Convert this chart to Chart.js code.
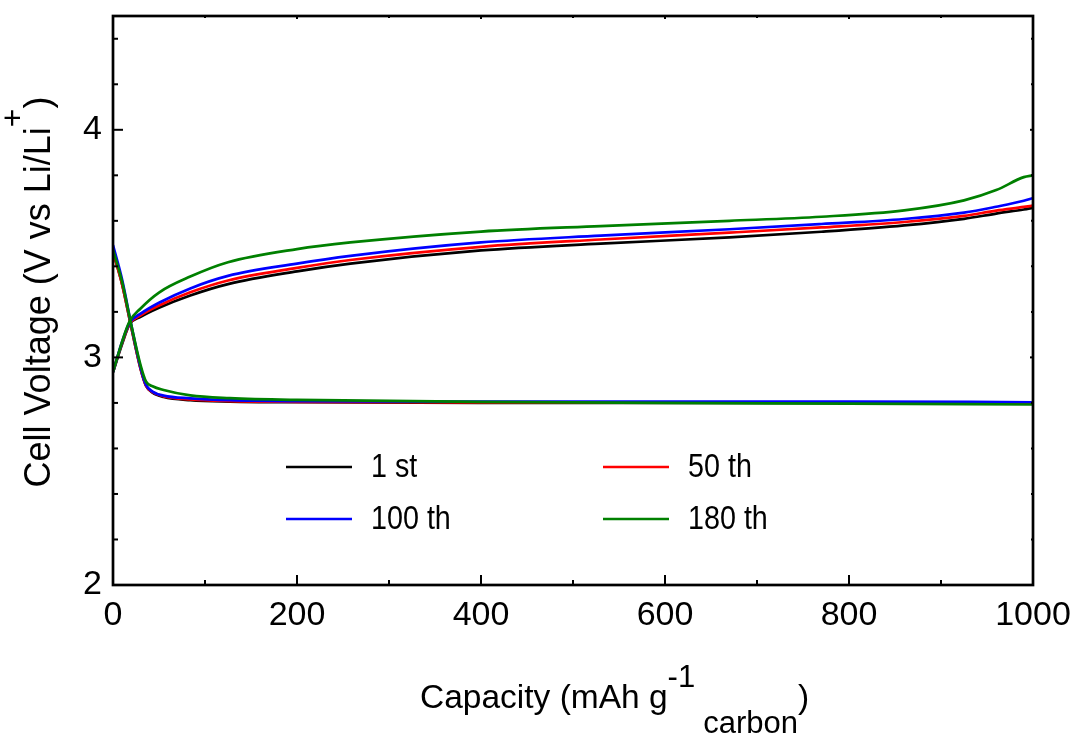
<!DOCTYPE html>
<html>
<head>
<meta charset="utf-8">
<script src="https://cdn.jsdelivr.net/npm/chart.js@4/dist/chart.umd.min.js"></script>
<style>
  html, body { margin: 0; padding: 0; background: #fff; }
  #wrap { width: 1078px; height: 736px; }
</style>
</head>
<body>
<div id="wrap"><canvas id="c" width="1078" height="736"></canvas></div>
<script>
// ---- data ----
const cycleLabels = ['1 st', '50 th', '100 th', '180 th'];
const cycleColors = ['#000000', '#ff0000', '#0000ff', '#008000'];

const chargeCap = [0, 10, 18, 30, 50, 84, 125, 200, 258, 400, 530, 670, 770, 860, 925, 960, 990, 1000];
const charge1st  = [2.935, 3.06, 3.145, 3.178, 3.218, 3.272, 3.322, 3.378, 3.412, 3.47, 3.50, 3.527, 3.552, 3.58, 3.609, 3.632, 3.65, 3.657];
const charge50th = [2.935, 3.065, 3.148, 3.185, 3.228, 3.286, 3.338, 3.393, 3.428, 3.486, 3.518, 3.548, 3.571, 3.595, 3.622, 3.645, 3.661, 3.667];
const charge100th= [2.935, 3.07, 3.152, 3.192, 3.24, 3.303, 3.358, 3.412, 3.446, 3.505, 3.535, 3.563, 3.586, 3.608, 3.636, 3.662, 3.688, 3.70];
const charge180th= [2.935, 3.07, 3.158, 3.215, 3.285, 3.355, 3.418, 3.476, 3.505, 3.553, 3.577, 3.60, 3.618, 3.646, 3.69, 3.735, 3.792, 3.80];

const dischargeCap = [0, 10, 20, 30, 36, 43, 55, 84, 127, 200, 400, 600, 800, 1000];
const discharge1st  = [3.464, 3.32, 3.13, 2.95, 2.875, 2.845, 2.826, 2.812, 2.806, 2.803, 2.80, 2.80, 2.80, 2.80];
const discharge50th = [3.464, 3.32, 3.13, 2.95, 2.875, 2.847, 2.829, 2.815, 2.808, 2.805, 2.802, 2.802, 2.802, 2.80];
const discharge100th= [3.493, 3.34, 3.14, 2.955, 2.878, 2.85, 2.832, 2.82, 2.812, 2.808, 2.806, 2.806, 2.806, 2.803];
const discharge180th= [3.474, 3.33, 3.14, 2.965, 2.893, 2.873, 2.857, 2.833, 2.821, 2.813, 2.805, 2.80, 2.797, 2.793];

const xMajorTicks = [0, 200, 400, 600, 800, 1000];
const xMinorTicks = [100, 300, 500, 700, 900];
const yMajorTicks = [2, 3, 4];
const yMinorTicks = [2.2, 2.4, 2.6, 2.8, 3.2, 3.4, 3.6, 3.8, 4.2, 4.4];

// ---- build datasets ----
const FONT = '"Liberation Sans", Arial, sans-serif';
const chargeSets = [charge1st, charge50th, charge100th, charge180th];
const dischargeSets = [discharge1st, discharge50th, discharge100th, discharge180th];
const toPts = (xs, ys) => xs.map((x, i) => ({ x: x, y: ys[i] }));
const datasets = [];
cycleLabels.forEach((lab, i) => {
  datasets.push({ label: lab, data: toPts(chargeCap, chargeSets[i]), borderColor: cycleColors[i],
    order: 3 - i, isLegend: true });
});
cycleLabels.forEach((lab, i) => {
  datasets.push({ label: lab + ' discharge', data: toPts(dischargeCap, dischargeSets[i]), borderColor: cycleColors[i],
    order: 3 - i, isLegend: false });
});
datasets.forEach(d => {
  d.showLine = true; d.pointRadius = 0; d.borderWidth = 2.7; d.fill = false;
  d.cubicInterpolationMode = 'monotone'; d.backgroundColor = d.borderColor;
});

// ---- custom drawing: frame, inward ticks, axis titles, legend ----
const decorPlugin = {
  id: 'decor',
  afterDatasetsDraw(chart) {
    const ctx = chart.ctx, a = chart.chartArea;
    const xs = chart.scales.x, ys = chart.scales.y;
    ctx.save();
    ctx.strokeStyle = '#000';
    ctx.lineWidth = 2.7;
    ctx.strokeRect(a.left, a.top, a.right - a.left, a.bottom - a.top);
    ctx.lineWidth = 2;
    const tick = (x1, y1, x2, y2) => { ctx.beginPath(); ctx.moveTo(x1, y1); ctx.lineTo(x2, y2); ctx.stroke(); };
    xMajorTicks.forEach(v => { const p = xs.getPixelForValue(v); tick(p, a.bottom, p, a.bottom - 10); tick(p, a.top, p, a.top + 3); });
    xMinorTicks.forEach(v => { const p = xs.getPixelForValue(v); tick(p, a.bottom, p, a.bottom - 5); tick(p, a.top, p, a.top + 2); });
    yMajorTicks.forEach(v => { const p = ys.getPixelForValue(v); tick(a.left, p, a.left + 10, p); tick(a.right, p, a.right - 3, p); });
    yMinorTicks.forEach(v => { const p = ys.getPixelForValue(v); tick(a.left, p, a.left + 5, p); tick(a.right, p, a.right - 2, p); });

    ctx.fillStyle = '#000';
    ctx.textBaseline = 'alphabetic';
    ctx.textAlign = 'left';

    // x title: Capacity (mAh g^-1 carbon)
    const xBig = '33.5px ' + FONT, xSmall = '31px ' + FONT;
    const parts = [
      { t: 'Capacity (mAh g', f: xBig, dy: 0, gap: 0 },
      { t: '-1', f: xSmall, dy: -21, gap: 0 },
      { t: 'carbon', f: xSmall, dy: 25, gap: 8 },
      { t: ')', f: xBig, dy: 0, gap: 0 }
    ];
    let x0 = 420;
    parts.forEach(p => { ctx.font = p.f; x0 += p.gap; ctx.fillText(p.t, x0, 708 + p.dy); x0 += ctx.measureText(p.t).width; });

    // y title: Cell Voltage (V vs Li/Li+)
    const yBig = '36px ' + FONT, ySmall = '32px ' + FONT;
    const yparts = [
      { t: 'Cell Voltage (V vs Li/Li', f: yBig, dy: 0 },
      { t: '+', f: ySmall, dy: -27 },
      { t: ')', f: yBig, dy: 0 }
    ];
    let ytot = 0;
    yparts.forEach(p => { ctx.font = p.f; p.w = ctx.measureText(p.t).width; ytot += p.w; });
    ctx.save();
    ctx.translate(50, 292);
    ctx.rotate(-Math.PI / 2);
    let y0 = -ytot / 2;
    yparts.forEach(p => { ctx.font = p.f; ctx.fillText(p.t, y0, p.dy); y0 += p.w; });
    ctx.restore();

    // legend (two columns, slightly condensed text as in the reference)
    const legendPos = [[286, 467], [603, 467], [286, 519], [603, 519]];
    ctx.font = '33px ' + FONT;
    ctx.textBaseline = 'middle';
    chart.data.datasets.filter(d => d.isLegend).forEach((d, i) => {
      const [lx, ly] = legendPos[i];
      ctx.strokeStyle = d.borderColor; ctx.lineWidth = 2.7;
      tick(lx, ly, lx + 66, ly);
      ctx.save();
      ctx.translate(lx + 85, ly + 1);
      ctx.scale(0.87, 1);
      ctx.fillStyle = '#000';
      ctx.fillText(d.label, 0, 0);
      ctx.restore();
    });
    ctx.restore();
  }
};

const zeroPad = s => { s.paddingTop = 0; s.paddingBottom = 0; s.paddingLeft = 0; s.paddingRight = 0; };

new Chart(document.getElementById('c'), {
  type: 'scatter',
  data: { datasets: datasets },
  options: {
    responsive: false,
    animation: false,
    events: [],
    layout: { padding: { top: 16, right: 45, left: 0, bottom: 0 } },
    plugins: { legend: { display: false }, tooltip: { enabled: false }, title: { display: false } },
    scales: {
      x: {
        type: 'linear', min: 0, max: 1000,
        grid: { display: false, drawTicks: false },
        border: { display: false },
        ticks: { color: '#000', font: { family: FONT, size: 34 }, padding: 10, maxRotation: 0,
                 callback: v => String(v) },
        afterBuildTicks: s => { s.ticks = xMajorTicks.map(v => ({ value: v })); },
        afterFit: s => { s.height = 151; zeroPad(s); }
      },
      y: {
        type: 'linear', min: 2, max: 4.5,
        grid: { display: false, drawTicks: false },
        border: { display: false },
        ticks: { color: '#000', font: { family: FONT, size: 34 }, padding: 11, callback: v => String(v) },
        afterBuildTicks: s => { s.ticks = yMajorTicks.map(v => ({ value: v })); },
        afterFit: s => { s.width = 113; zeroPad(s); }
      }
    }
  },
  plugins: [decorPlugin]
});
</script>
</body>
</html>
